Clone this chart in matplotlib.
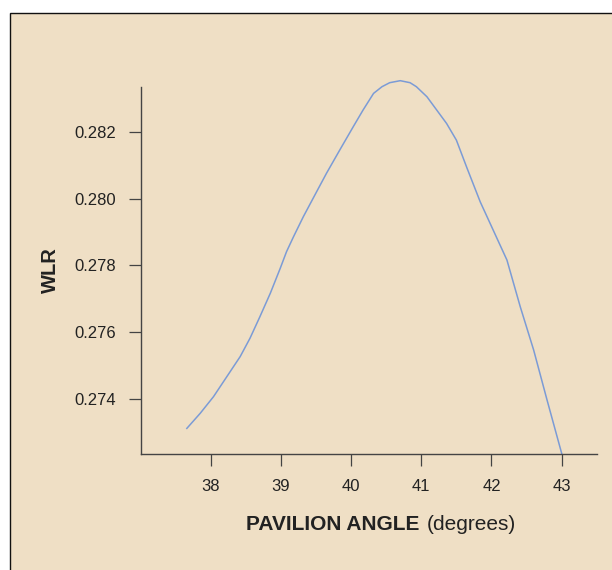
import matplotlib.pyplot as plt
from matplotlib.patches import Rectangle

# values
angle = [37.66, 37.85, 38.04, 38.23, 38.42, 38.56, 38.70, 38.85, 38.99, 39.08,
         39.18, 39.32, 39.51, 39.65, 39.84, 40.03, 40.17, 40.32, 40.44, 40.55,
         40.70, 40.84, 40.93, 41.08, 41.22, 41.36, 41.50, 41.65, 41.84, 42.03,
         42.22, 42.41, 42.60, 42.79, 43.00]
wlr = [0.27312, 0.27357, 0.27407, 0.27467, 0.27527, 0.27582, 0.27646, 0.27717,
       0.27791, 0.27841, 0.27886, 0.27946, 0.28021, 0.28076, 0.28146, 0.28215,
       0.28265, 0.28315, 0.28335, 0.28347, 0.28353, 0.28347, 0.28335, 0.28305,
       0.28265, 0.28225, 0.28175, 0.28092, 0.27990, 0.27903, 0.27816, 0.27676,
       0.27547, 0.27398, 0.27237]
xticks = [38, 39, 40, 41, 42, 43]
yticks = [0.274, 0.276, 0.278, 0.280, 0.282]

bg = '#efdfc5'
plt.rcParams['font.family'] = ['Liberation Sans', 'DejaVu Sans']

fig = plt.figure(figsize=(6.12, 5.70), dpi=100)
fig.patch.set_facecolor('white')
frame = Rectangle((10 / 612, -0.05), 1.0, 1.05 - 12.5 / 570,
                  transform=fig.transFigure, facecolor=bg, edgecolor='#111111',
                  linewidth=1.0, zorder=-10)
fig.patches.append(frame)

ax = fig.add_axes([141 / 612, 116 / 570, 456 / 612, 367 / 570])
ax.set_zorder(5)
ax.set_facecolor('none')
ax.plot(angle, wlr, color='#7b9bd6', linewidth=1.1, clip_on=False)

ax.set_xlim(37.007, 43.503)
ax.set_ylim(0.272353, 0.283341)
ax.set_xticks(xticks)
ax.set_yticks(yticks)
ax.set_yticklabels(['%.3f' % v for v in yticks])

for side in ['top', 'right']:
    ax.spines[side].set_visible(False)
for side in ['left', 'bottom']:
    ax.spines[side].set_color('#444444')
    ax.spines[side].set_linewidth(1.0)
ax.tick_params(direction='out', length=8.5, width=0.9, color='#444444',
               labelsize=12, labelcolor='#222222', pad=9.5)

ax.set_ylabel('WLR', fontsize=14.5, fontweight='bold', color='#222222', labelpad=10)

t1 = fig.text(246 / 612, 1 - 524 / 570, 'PAVILION ANGLE', fontsize=15,
              fontweight='bold', color='#222222', va='center', ha='left')
fig.canvas.draw()
bb = t1.get_window_extent()
fig.text((bb.x1 + 7) / 612, 1 - 524 / 570, '(degrees)', fontsize=15,
         color='#222222', va='center', ha='left')

fig.savefig('out.png', dpi=100, facecolor='white')
